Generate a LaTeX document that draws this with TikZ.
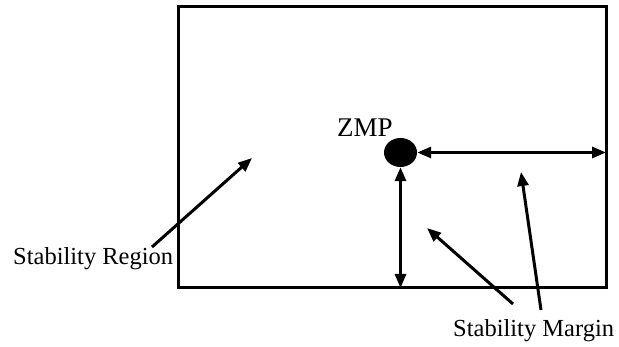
\documentclass[tikz,border=0pt]{standalone}
\usepackage{fontspec}
\setmainfont{Liberation Serif}
\usetikzlibrary{arrows.meta,shapes.geometric}
\begin{document}
\begin{tikzpicture}[x=1pt,y=-1pt,
  edge/.style={line width=3pt},
  arr/.style={line width=3pt,-{Triangle[length=14pt,width=11pt]}},
  darr/.style={line width=3pt,{Triangle[length=14pt,width=11pt]}-{Triangle[length=14pt,width=11pt]}},
  lbl/.style={inner sep=0pt,anchor=base west,font=\fontsize{24.5}{28}\selectfont}]
\useasboundingbox (0,0) rectangle (619,347);

% Draw stability region boundary
\coordinate (nw) at (178,7);
\coordinate (se) at (606,288);
\draw[edge] (nw) rectangle (se);

% Draw ZMP point
\node[ellipse,fill=black,inner sep=0pt,minimum width=33pt,minimum height=29pt] (zmp) at (400.5,152.5) {};
\node[lbl,font=\fontsize{27}{30}\selectfont] (zmplbl) at (337,137) {ZMP};

% Distances from ZMP to the boundary
\coordinate (redge) at (se |- zmp);
\coordinate (bedge) at (zmp |- se);
\draw[darr] (zmp.east) -- (redge);
\draw[darr] (zmp.south) -- (bedge);

% Labels with pointers
\node[lbl] (region) at (13,265) {Stability Region};
\node[lbl] (margin) at (453,337) {Stability Margin};
\coordinate (rtail) at (152,247);
\coordinate (rtip) at (252,158);
\coordinate (mtailA) at (513,304);
\coordinate (mtipA) at (427,228);
\coordinate (mtailB) at (541,310);
\coordinate (mtipB) at (521,172);
\draw[arr] (rtail) -- (rtip);
\draw[arr] (mtailA) -- (mtipA);
\draw[arr] (mtailB) -- (mtipB);
\end{tikzpicture}
\end{document}
